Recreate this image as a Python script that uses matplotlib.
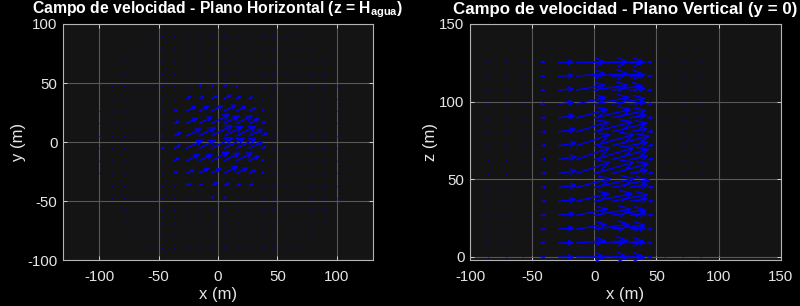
import numpy as np
import matplotlib
matplotlib.use('Agg')
import matplotlib.pyplot as plt

plt.rcParams['font.family'] = ['Liberation Sans', 'DejaVu Sans']
plt.rcParams['axes.unicode_minus'] = False
plt.rcParams['mathtext.default'] = 'regular'

# ---------------- data: horizontal plane (z = H_agua) ----------------
h_n = 20                       # grid nodes per side over [-100, 100]
h_lim = (-100, 100)
# (first, last) column index of grid nodes that carry a (tiny) vector, per row j (bottom -> top)
h_dot_rows = [(6, 14), (4, 16), (3, 17), (2, 18), (2, 18), (1, 19), (1, 19),
              (0, 19), (0, 19), (0, 19), (0, 19), (0, 19), (0, 19),
              (1, 19), (1, 19), (2, 18), (2, 18), (3, 17), (4, 16), (6, 14)]
# x-extent (m) of the arrows, columns i = 5..14, keyed by row j
h_first_col = 5
h_len_rows = {
    5:  [0.0, 0.0, 0.0, 1.0, 2.8, 2.2, 1.0, 0.0, 0.0, 0.0],
    6:  [0.0, 0.0, 4.2, 3.4, 5.6, 5.0, 4.2, 3.7, 0.5, 0.0],
    7:  [0.0, 3.4, 7.0, 9.0, 8.4, 12.0, 9.8, 6.5, 2.8, 0.0],
    8:  [1.0, 4.8, 11.2, 11.8, 15.4, 13.5, 14.0, 9.3, 2.8, 0.0],
    9:  [2.8, 6.2, 14.0, 14.6, 18.3, 17.7, 16.9, 12.0, 4.2, 0.0],
    10: [1.4, 6.2, 12.6, 14.6, 18.3, 16.3, 16.9, 12.0, 5.6, 0.5],
    11: [1.0, 4.8, 9.8, 11.8, 15.4, 13.5, 14.0, 9.3, 4.2, 0.0],
    12: [0.5, 3.4, 8.4, 9.0, 9.8, 10.7, 8.4, 6.5, 2.8, 0.0],
    13: [0.0, 0.5, 4.2, 4.8, 5.6, 6.5, 4.2, 3.7, 0.5, 0.0],
    14: [0.0, 0.0, 0.5, 3.0, 2.5, 3.0, 2.0, 1.0, 0.5, 0.0],
}
h_angle_deg = 27.0

# ---------------- data: vertical plane (y = 0) ----------------
v_n = 15
v_x_lim = (-100, 100)
v_z_top = 125.4
v_dot_cols = [1, 2, 3, 11, 12, 13]
v_arrow_cols = [4, 5, 6, 7, 8, 9, 10]
v_col_speed = [4.0, 12.5, 24.0, 28.0, 26.0, 13.0, 4.5]
v_col_tilt = [0.3, 0.5, 1.0, 0.85, 0.8, 0.6, 0.3]
v_row_gain = [1.0, 1.0, 1.05, 1.1, 1.15, 1.2, 1.2, 1.2, 1.2, 1.15, 1.1, 1.05, 1.0, 1.0, 1.0]
v_row_angle = [0, 4, 7.5, 9, 11, 12, 15.5, 16, 15, 14, 12.5, 10, 8, 4, 0]

# ---------------- build vectors ----------------
hg = np.linspace(h_lim[0], h_lim[1], h_n)
HX, HY, HU, HV = [], [], [], []
ta = np.tan(np.radians(h_angle_deg))
for j, (lo, hi) in enumerate(h_dot_rows):
    for i in range(lo, hi + 1):
        L = 0.0
        if j in h_len_rows and h_first_col <= i < h_first_col + len(h_len_rows[j]):
            L = h_len_rows[j][i - h_first_col]
        HX.append(hg[i]); HY.append(hg[j]); HU.append(L); HV.append(L * ta)

vx = np.linspace(v_x_lim[0], v_x_lim[1], v_n)
vz = np.linspace(0, v_z_top, v_n)
VX, VZ, VU, VW = [], [], [], []
for k in range(v_n):
    for i in v_dot_cols:
        VX.append(vx[i]); VZ.append(vz[k]); VU.append(0.0); VW.append(0.0)
    for c, i in enumerate(v_arrow_cols):
        s = v_col_speed[c] * v_row_gain[k]
        a = np.radians(v_row_angle[k] * v_col_tilt[c])
        VX.append(vx[i]); VZ.append(vz[k]); VU.append(s * np.cos(a)); VW.append(s * np.sin(a))

# ---------------- figure ----------------
fig = plt.figure(figsize=(8, 3.06), dpi=100, facecolor='black')
ax1 = fig.add_axes([0.07875, 0.150, 0.3875, 0.7716])
ax2 = fig.add_axes([0.5875, 0.150, 0.3884, 0.7716])

txt = '#e6e6e6'
for ax in (ax1, ax2):
    ax.set_facecolor('#141414')
    for s in ax.spines.values():
        s.set_color('#b4b4b4'); s.set_linewidth(0.8)
    ax.tick_params(colors=txt, labelsize=10.8, direction='in', length=3,
                   width=0.6, top=True, right=True, labeltop=False, labelright=False)
    ax.tick_params(axis='x', pad=7)
    ax.tick_params(axis='y', pad=4)
    ax.grid(True, color='#585858', lw=0.8)
    ax.set_axisbelow(True)

ax1.set_xlim(-130.5, 130.5)
ax1.set_ylim(-100, 100)
ax2.set_xlim(-100, 150)
ax2.set_ylim(-2, 150)


def draw_quiver(ax, X, Y, U, V):
    """MATLAB-like quiver: thin shafts with open arrow heads scaled to arrow length."""
    fig.canvas.draw()
    tr = ax.transData
    blue = '#0000ff'
    for x, y, u, v in zip(X, Y, U, V):
        p0 = tr.transform((x, y))
        p1 = tr.transform((x + u, y + v))
        Lpx = float(np.hypot(*(p1 - p0)))
        if Lpx < 1.5:
            ax.plot([x], [y], marker='s', ms=1.1, mew=0, color=blue, alpha=0.55)
            continue
        ms = max(0.72 * Lpx * 0.72, 1.0)
        ax.annotate('', xy=(x + u, y + v), xytext=(x, y),
                    arrowprops=dict(arrowstyle='->,head_length=0.4,head_width=0.19',
                                    color=blue, lw=1.0, shrinkA=0, shrinkB=0,
                                    mutation_scale=ms))


draw_quiver(ax1, HX, HY, HU, HV)
draw_quiver(ax2, VX, VZ, VU, VW)

ax1.set_xticks([-100, -50, 0, 50, 100])
ax1.set_yticks([-100, -50, 0, 50, 100])
ax1.set_xlabel('x (m)', color=txt, fontsize=12, labelpad=2)
ax1.set_ylabel('y (m)', color=txt, fontsize=12, labelpad=1)
ax1.set_title('Campo de velocidad - Plano Horizontal (z = H$_{agua}$)', color='white',
              fontsize=11.3, fontweight='bold', pad=8)

ax2.set_xticks([-100, -50, 0, 50, 100, 150])
ax2.set_yticks([0, 50, 100, 150])
ax2.set_xlabel('x (m)', color=txt, fontsize=12, labelpad=2)
ax2.set_ylabel('z (m)', color=txt, fontsize=12, labelpad=1)
ax2.set_title('Campo de velocidad - Plano Vertical (y = 0)', color='white',
              fontsize=12.2, fontweight='bold', pad=7)

fig.savefig('out.png', dpi=100, facecolor='black')
